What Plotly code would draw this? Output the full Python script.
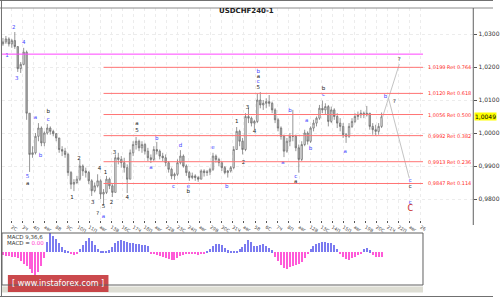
import plotly.graph_objects as go

W, H = 500, 299

# ---------------- data ----------------
high = [1.0288,1.0294,1.0290,1.0285,1.0306,1.0262,1.0215,1.0258,1.0250,1.0000,
        0.9960,1.0000,1.0030,1.0020,1.0005,1.0027,1.0020,1.0010,1.0000,0.9985,
        0.9960,0.9955,0.9940,0.9885,0.9860,0.9870,0.9918,0.9905,0.9895,0.9885,
        0.9860,0.9850,0.9875,0.9860,0.9830,0.9870,0.9865,0.9845,0.9935,0.9940,
        0.9930,0.9925,0.9905,0.9950,0.9975,0.9988,0.9980,0.9975,0.9970,0.9955,
        0.9935,0.9960,0.9973,0.9950,0.9940,0.9935,0.9915,0.9895,0.9880,0.9920,
        0.9948,0.9935,0.9905,0.9885,0.9880,0.9875,0.9870,0.9890,0.9890,0.9888,
        0.9895,0.9940,0.9935,0.9925,0.9915,0.9900,0.9888,0.9900,0.9960,1.0018,
        1.0010,0.9985,1.0060,1.0076,1.0050,1.0040,1.0120,1.0124,1.0100,1.0105,
        1.0115,1.0095,1.0075,1.0045,1.0020,0.9995,0.9985,1.0000,1.0070,0.9995,
        0.9965,0.9975,1.0010,1.0005,1.0020,1.0040,1.0050,1.0085,1.0098,1.0090,
        1.0085,1.0080,1.0075,1.0060,1.0045,1.0030,1.0000,1.0030,1.0045,1.0060,
        1.0065,1.0070,1.0065,1.0082,1.0060,1.0030,1.0025,1.0030,1.0062]
low = [1.0264,1.0270,1.0262,1.0258,1.0255,1.0185,1.0182,1.0205,1.0040,0.9882,
       0.9925,0.9935,0.9975,0.9960,0.9960,0.9995,0.9995,0.9990,0.9975,0.9940,
       0.9930,0.9925,0.9870,0.9830,0.9824,0.9845,0.9855,0.9870,0.9865,0.9845,
       0.9809,0.9820,0.9835,0.9800,0.9782,0.9815,0.9830,0.9806,0.9820,0.9905,
       0.9895,0.9880,0.9818,0.9860,0.9930,0.9950,0.9945,0.9940,0.9935,0.9915,
       0.9909,0.9915,0.9935,0.9920,0.9915,0.9900,0.9880,0.9860,0.9858,0.9870,
       0.9905,0.9895,0.9870,0.9855,0.9860,0.9855,0.9852,0.9860,0.9868,0.9870,
       0.9872,0.9885,0.9910,0.9900,0.9885,0.9875,0.9865,0.9880,0.9890,0.9950,
       0.9960,0.9935,0.9945,1.0030,1.0020,1.0012,1.0030,1.0075,1.0070,1.0075,
       1.0080,1.0060,1.0030,1.0005,0.9980,0.9927,0.9940,0.9960,0.9975,0.9945,
       0.9880,0.9915,0.9960,0.9965,0.9970,1.0005,1.0020,1.0040,1.0060,1.0055,
       1.0020,1.0030,1.0040,1.0015,1.0005,0.9985,0.9970,0.9985,1.0015,1.0030,
       1.0040,1.0045,1.0045,1.0050,1.0010,0.9995,0.9993,0.9995,1.0015]
close = [1.0276,1.0285,1.0270,1.0280,1.0262,1.0195,1.0208,1.0245,1.0060,0.9935,
         0.9940,0.9990,1.0015,0.9970,1.0000,1.0015,1.0005,0.9998,0.9985,0.9950,
         0.9945,0.9935,0.9880,0.9845,0.9850,0.9860,0.9900,0.9885,0.9880,0.9855,
         0.9825,0.9840,0.9855,0.9815,0.9820,0.9860,0.9840,0.9820,0.9925,0.9920,
         0.9910,0.9895,0.9860,0.9940,0.9965,0.9975,0.9955,0.9965,0.9945,0.9925,
         0.9920,0.9950,0.9945,0.9930,0.9925,0.9910,0.9890,0.9870,0.9875,0.9910,
         0.9930,0.9900,0.9880,0.9865,0.9870,0.9865,0.9860,0.9885,0.9880,0.9882,
         0.9890,0.9930,0.9920,0.9910,0.9895,0.9880,0.9885,0.9895,0.9950,1.0005,
         0.9975,0.9950,1.0050,1.0045,1.0030,1.0035,1.0100,1.0085,1.0090,1.0095,
         1.0090,1.0070,1.0040,1.0015,0.9990,0.9945,0.9975,0.9990,0.9990,0.9955,
         0.9920,0.9965,1.0000,0.9975,1.0015,1.0030,1.0045,1.0075,1.0070,1.0080,
         1.0035,1.0070,1.0050,1.0030,1.0020,0.9995,0.9990,1.0020,1.0035,1.0050,
         1.0055,1.0060,1.0055,1.0060,1.0020,1.0010,1.0005,1.0020,1.0049]
first_open = 1.0270

macd = [-3,-4,-4,-5,-5,-6,-9,-12,-14,-17,
        -21,-23,-20,-14,-6,10,19,16,13,9,
        5,2,1,-1,-3,-2,3,7,11,14,
        11,7,3,1,1,0.5,2,5,9,11,
        12,11,10,9,9,8,8,7,7,6,
        -1,-2,-3,-4,-5,-6,-7,-8,-8,-6,
        -4,-3,-2,-1,-1,-2,-3,-2,-1,1,
        3,6,8,8,7,4,2,0.5,0.5,1,
        3,5,8,12,10,6,6,7,8,6,
        4,2,-5,-9,-13,-16,-17,-15,-14,-13,
        -12,-10,-6,-2,3,6,8,9,10,10,
        9,9,7,3,-2,-5,-7,-8,-6,-5,
        -3,-1,3,4,2,-3,-5,-5,-5]

fib_levels = [1.0199, 1.0120, 1.0056, 0.9992, 0.9913, 0.9847]
fib_labels = ["1,0199 Ret 0.764", "1,0120 Ret 0.618", "1,0056 Ret 0.500",
              "0,9992 Ret 0.382", "0,9913 Ret 0.236", "0,9847 Ret 0.114"]
resistance_level = 1.0239
last_price = 1.0049
price_ticks = [0.98, 0.99, 1.00, 1.01, 1.02, 1.03]
price_ticktext = ["0,9800", "0,9900", "1,0000", "1,0100", "1,0200", "1,0300"]

date_labels = ["2С","3Ч","4П","авг","8В","9С","10П","11П","авг","13В","16С","17Ч",
               "18П","авг","22В","23С","24П","авг","29В","30С","31Ч","авг","5В","6С",
               "7Ч","8П","авг","12В","13С","14П","15П","авг","19В","20С","21Ч","22П",
               "авг","26"]

wave_text  = ["2","1","3","4","5","a","a","b","b","c",
              "1","2","3","4","1","?","5","a","2","3","4",
              "a","5","a","b","c","d","e","b","e","b",
              "1","2","3","4","b","a","c","5",
              "a","b","c","a","a","b","b","c","a",
              "b","?","?","c","c","c","C"]
wave_idx   = [3.67,1.33,4.67,7,8.33,8.33,11,12.67,15.33,15.33,
              23.33,25.67,30.33,32.67,34.67,32,34,34,36.67,37.67,42,
              45.33,45.33,50,52,57.67,60,62.67,62.67,71,75.67,
              79,81.33,82.67,85,86.33,86.33,86.33,86.33,
              94.67,97,99,99,102.67,104,108.33,108.33,115.67,
              129.33,132.33,134,137.67,137.67,137.67,137.67]
wave_price = [1.0318,1.0233,1.0164,1.0273,0.9867,0.9848,1.0048,0.9930,1.0064,1.0042,
              0.9803,0.9921,0.9788,0.9891,0.9879,0.9755,0.9776,0.9748,0.9788,0.9942,0.9803,
              1.0027,1.0006,0.9894,0.9982,0.9839,0.9961,0.9839,0.9821,0.9955,0.9839,
              1.0033,0.9909,1.0076,1.0003,1.0185,1.0170,1.0155,1.0139,
              0.9909,1.0067,0.9867,0.9852,1.0036,0.9952,1.0133,1.0115,0.9945,
              1.0109,1.0094,1.0221,0.9855,0.9839,0.9788,0.9770]
wave_kind  = ["u","u","u","u","u","k","u","u","k","u",
              "k","k","k","k","k","k","k","u","k","k","k",
              "k","k","u","u","u","u","u","k","u","u",
              "k","k","k","k","u","k","u","k",
              "u","u","u","k","u","u","k","u","u",
              "u","k","k","u","k","u","r"]

proj_up_idx = [128, 134];      proj_up_price = [1.0039, 1.0209]
proj_dn_idx = [130.33, 137.33]; proj_dn_price = [1.0106, 0.9864]

# ---------------- helpers ----------------
def px(x):
    return x / W

def py(y):
    return 1 - y / H

n = len(close)
idx = list(range(n))
opens = [first_open] + close[:-1]
hi = [max(h, o, c) for h, o, c in zip(high, opens, close)]
lo = [min(l, o, c) for l, o, c in zip(low, opens, close)]

fig = go.Figure()

fig.add_trace(go.Candlestick(
    x=idx, open=opens, high=hi, low=lo, close=close,
    increasing=dict(line=dict(color="#6a6a6a", width=0.7), fillcolor="#f2f2f2"),
    decreasing=dict(line=dict(color="#6a6a6a", width=0.7), fillcolor="#b4b4b4"),
    whiskerwidth=0, showlegend=False, hoverinfo="skip", xaxis="x", yaxis="y"))

# projection lines
fig.add_trace(go.Scatter(x=proj_up_idx, y=proj_up_price, mode="lines",
                         line=dict(color="#c4c4c4", width=1), showlegend=False,
                         hoverinfo="skip", xaxis="x", yaxis="y"))
fig.add_trace(go.Scatter(x=proj_dn_idx, y=proj_dn_price, mode="lines",
                         line=dict(color="#c4c4c4", width=1), showlegend=False,
                         hoverinfo="skip", xaxis="x", yaxis="y"))

kind_color = {"u": "#4646ff", "k": "#222222", "r": "#c62020"}
for kind, size in (("u", 5.5), ("k", 5.5), ("r", 8)):
    sel = [i for i, k in enumerate(wave_kind) if k == kind]
    fig.add_trace(go.Scatter(
        x=[wave_idx[i] for i in sel], y=[wave_price[i] for i in sel],
        text=[wave_text[i] for i in sel], mode="text",
        textfont=dict(color=kind_color[kind], size=size, family="DejaVu Sans"),
        showlegend=False, hoverinfo="skip", xaxis="x", yaxis="y"))

# MACD histogram
fig.add_trace(go.Bar(
    x=idx, y=macd, width=0.4,
    marker=dict(color=["#7b7bf0" if v >= 0 else "#ff5ad8" for v in macd], line=dict(width=0)),
    showlegend=False, hoverinfo="skip", xaxis="x2", yaxis="y2"))

shapes = []
# magenta level
shapes.append(dict(type="line", xref="x", yref="y", x0=-1, x1=142,
                   y0=resistance_level, y1=resistance_level,
                   line=dict(color="#ff44ff", width=1)))
# fib levels
for lv in fib_levels:
    shapes.append(dict(type="line", xref="x", yref="y", x0=34, x1=142, y0=lv, y1=lv,
                       line=dict(color="#ff7474", width=1)))
# frame lines
shapes += [
    dict(type="line", xref="paper", yref="paper", x0=0, x1=1, y0=py(0.5), y1=py(0.5),
         line=dict(color="#707070", width=1)),
    dict(type="line", xref="paper", yref="paper", x0=0, x1=1, y0=py(8), y1=py(8),
         line=dict(color="#8a8a8a", width=1)),
    dict(type="line", xref="paper", yref="paper", x0=px(1.5), x1=px(1.5), y0=py(0), y1=py(296),
         line=dict(color="#707070", width=1)),
    dict(type="line", xref="paper", yref="paper", x0=px(480), x1=px(480), y0=py(8), y1=py(225),
         line=dict(color="#606060", width=1)),
    dict(type="rect", xref="paper", yref="paper", x0=px(2), x1=px(429), y0=py(285), y1=py(233),
         line=dict(color="#606060", width=1)),
    dict(type="rect", xref="paper", yref="paper", x0=px(2), x1=px(429), y0=py(292.5), y1=py(286.5),
         line=dict(width=0), fillcolor="#deded4", layer="below"),
    dict(type="line", xref="paper", yref="paper", x0=0, x1=1, y0=py(296.5), y1=py(296.5),
         line=dict(color="#707070", width=1)),
    dict(type="rect", xref="paper", yref="paper", x0=px(8), x1=px(110), y0=py(292), y1=py(275),
         line=dict(width=0), fillcolor="rgba(196,48,52,0.88)", layer="below"),
]

annotations = []
for lv, lab in zip(fib_levels, fib_labels):
    annotations.append(dict(xref="paper", yref="y", x=px(432), y=lv, text=lab,
                            showarrow=False, xanchor="left", yanchor="middle",
                            font=dict(color="#ff2a2a", size=5, family="DejaVu Sans")))
annotations += [
    dict(xref="paper", yref="paper", x=px(250), y=py(4.5), text="<b>USDCHF240-1</b>",
         showarrow=False, font=dict(size=7, color="#222", family="DejaVu Sans")),
    dict(xref="paper", yref="y", x=px(481), y=last_price, text="1,0049", showarrow=False,
         xanchor="left", yanchor="middle", bgcolor="#ffff00", borderpad=0,
         font=dict(size=6, color="#000", family="DejaVu Sans")),
    dict(xref="paper", yref="paper", x=px(5), y=py(236.5), text="MACD 9,36,6",
         showarrow=False, xanchor="left", yanchor="middle",
         font=dict(size=5.5, color="#333", family="DejaVu Sans")),
    dict(xref="paper", yref="paper", x=px(5), y=py(242.5),
         text="MACD = <span style='color:#ff33cc'>0.00</span>",
         showarrow=False, xanchor="left", yanchor="middle",
         font=dict(size=5.5, color="#333", family="DejaVu Sans")),
    dict(xref="paper", yref="paper", x=px(59), y=py(283.5), text="[ www.instaforex.com ]",
         showarrow=False, xanchor="center", yanchor="middle",
         font=dict(size=8, color="#ffffff", family="DejaVu Sans")),
]

tick_idx = [3 + k * 3.737 for k in range(len(date_labels))]

fig.update_layout(
    width=W, height=H, margin=dict(l=0, r=0, t=0, b=0),
    paper_bgcolor="white", plot_bgcolor="rgba(0,0,0,0)",
    font=dict(family="DejaVu Sans", size=6, color="#333"),
    showlegend=False, bargap=0,
    xaxis=dict(domain=[px(2), px(480)], range=[-1/3, 159], anchor="y",
               rangeslider=dict(visible=False),
               tickvals=tick_idx, ticktext=date_labels, ticks="outside", ticklen=2,
               tickcolor="#555", tickfont=dict(size=4.5, color="#444"),
               showgrid=True, gridcolor="#ececec", griddash="dot", zeroline=False,
               showline=False, fixedrange=True),
    yaxis=dict(domain=[py(220), py(8)], range=[0.973636, 1.037879], side="right",
               anchor="x", tickvals=price_ticks, ticktext=price_ticktext,
               ticks="outside", ticklen=3, tickcolor="#555",
               tickfont=dict(size=6, color="#333"),
               showgrid=True, gridcolor="#ececec", griddash="dot", zeroline=False,
               showline=False),
    xaxis2=dict(domain=[px(2), px(429)], range=[-1/3, 142], anchor="y2",
                showticklabels=False, showgrid=False, zeroline=False, ticks=""),
    yaxis2=dict(domain=[py(285), py(233)], range=[-33.3, 19.3], anchor="x2",
                showticklabels=False, showgrid=False, zeroline=False, ticks=""),
    shapes=shapes, annotations=annotations,
)

fig.write_html("out.html")
